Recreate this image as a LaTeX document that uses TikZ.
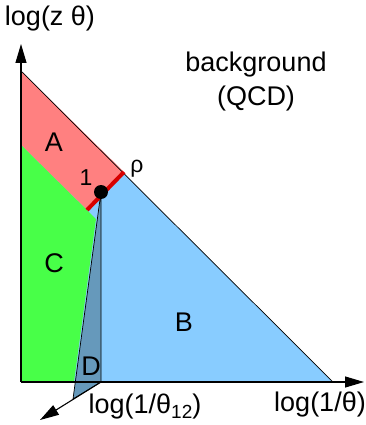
\documentclass[tikz,border=0pt]{standalone}
\usepackage{fontspec}
\setmainfont{Liberation Sans}
\usetikzlibrary{arrows.meta}
\definecolor{regionA}{RGB}{255,128,128}
\definecolor{regionB}{RGB}{136,204,255}
\definecolor{regionC}{RGB}{72,255,72}
\definecolor{regionD}{RGB}{102,153,187}
\definecolor{cutred}{RGB}{215,0,0}
\begin{document}
\begin{tikzpicture}[
  x=1pt,
  y=-1pt,
  font=\fontsize{27}{34}\selectfont,
  axis/.style={draw=black, line width=1.1pt, -{Triangle[length=19pt,width=11pt]}},
  edge/.style={draw=black, line width=0.7pt},
  regiontag/.style={inner sep=0pt, align=center},
  smalltag/.style={inner sep=0pt, font=\fontsize{23}{26}\selectfont}
]
\useasboundingbox (0,0) rectangle (365,425);

% corners of the Lund plane
\coordinate (origin) at (21,382);
\coordinate (top) at (21,71);
\coordinate (right) at (333,382);
\coordinate (cutup) at (124,172);
\coordinate (cutlow) at (87,210);
\coordinate (greentop) at (21,145);
\coordinate (greenmid) at (96,219);
\coordinate (greenlow) at (74,382);
\coordinate (dfoot) at (101,382);
\coordinate (dtip) at (73,399);
\coordinate (ytip) at (21,44);
\coordinate (xtip) at (364,382);
\coordinate (ztip) at (40,420);

% filled regions
\fill[regionB] (top) -- (right) -- (origin) -- cycle;
\fill[regionA] (top) -- (cutup) -- (cutlow) -- (greentop) -- cycle;
\fill[regionC] (greentop) -- (greenmid) -- (greenlow) -- (origin) -- cycle;
\draw[edge, fill=regionD] (101,192) -- (dfoot) -- (dtip) -- cycle;
\draw[edge] (top) -- (right);
\draw[cutred, line width=4pt] (cutup) -- (cutlow);
\node[circle, fill=black, minimum size=14pt, inner sep=0pt] (emission) at (101,192) {};

% axes
\draw[axis] (origin) -- (ytip);
\draw[axis] (origin) -- (xtip);
\draw[axis] (dfoot) -- (ztip);

% labels
\node[regiontag] (tagA) at (54,142) {A};
\node[regiontag] (tagB) at (184,322) {B};
\node[regiontag] (tagC) at (54,263) {C};
\node[regiontag] (tagD) at (91,366) {D};
\node[smalltag] (tagone) at (86,178) {1};
\node[smalltag] (tagrho) at (137,169) {ρ};
\node[regiontag] (background) at (256,82) {background\\(QCD)};
\node[regiontag] (ylabel) at (50,19) {log(z θ)};
\node[regiontag] (xlabel) at (320,405) {log(1/θ)};
\node[regiontag] (zlabel) at (145,407) {log(1/θ{\raisebox{-0.35ex}{\fontsize{19}{19}\selectfont 12}})};
\end{tikzpicture}
\end{document}
